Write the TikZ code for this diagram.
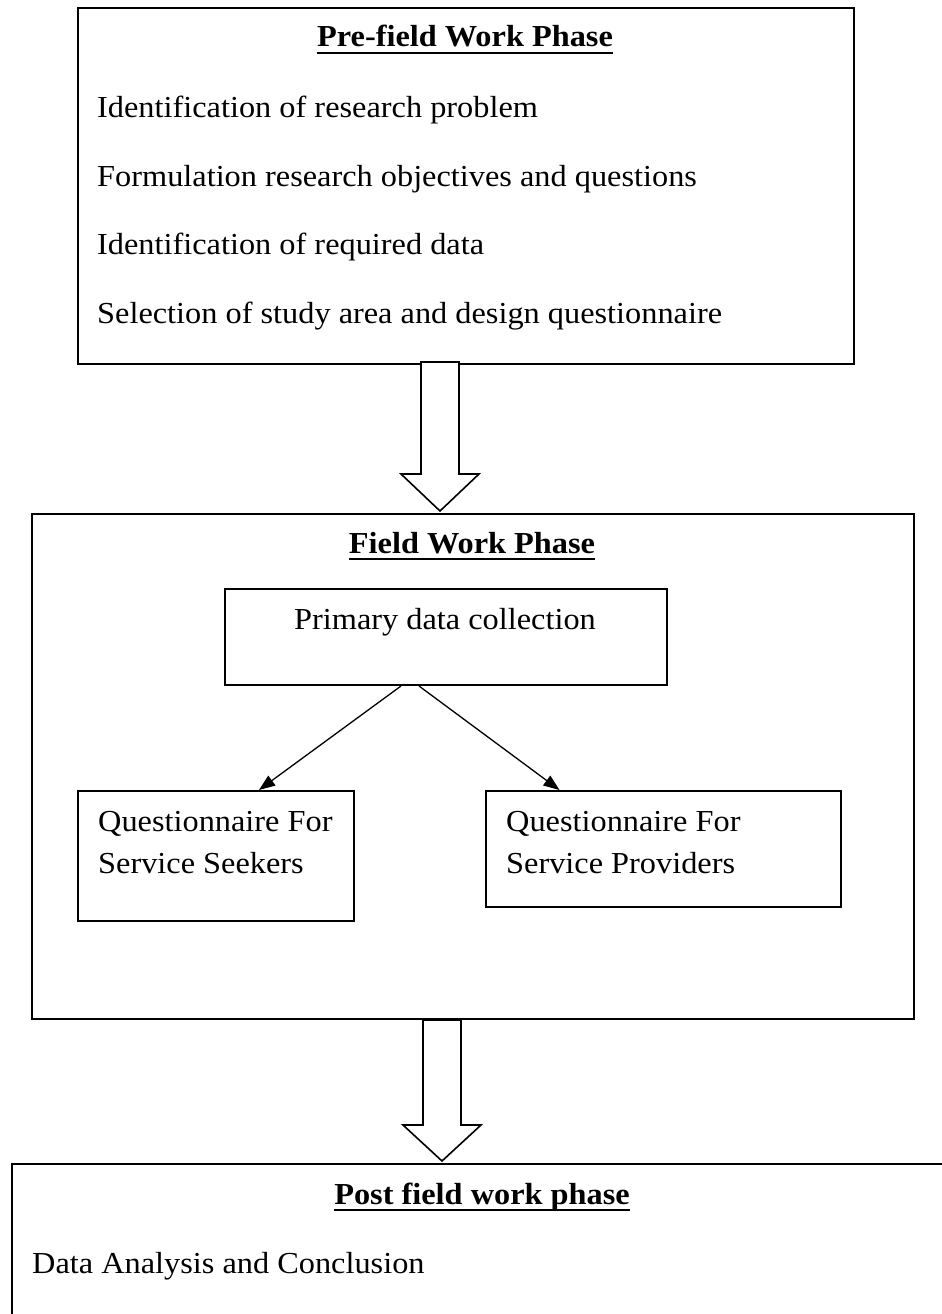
\documentclass[tikz,border=0pt]{standalone}
\usepackage{fontspec}
\setmainfont{Liberation Serif}[FakeStretch=1.06]
\usetikzlibrary{calc,arrows.meta}
\begin{document}
\begin{tikzpicture}[x=1pt,y=-1pt,
  box/.style={draw, line width=2pt, inner sep=0pt, anchor=north west},
  txt/.style={anchor=base west, inner sep=0pt, font=\fontsize{30.5}{36}\selectfont},
  ctxt/.style={anchor=base, inner sep=0pt, font=\fontsize{30.5}{36}\selectfont},
  ttl/.style={anchor=base, inner sep=0pt, font=\fontsize{30.5}{36}\selectfont\bfseries},
  blk/.style={draw, line width=1.6pt, fill=white, line join=miter},
  conn/.style={line width=1.3pt, -{Triangle[length=16pt,width=12pt]}},
  ul/.style={line width=2.8pt}]
\useasboundingbox (0,0) rectangle (942,1314);
\clip (0,0) rectangle (942,1314);

% Pre-field box
\node[box, minimum width=776pt, minimum height=356pt] (pre) at (77,7) {};
\node[ttl] (t1) at (465,47) {Pre-field Work Phase};
\draw[ul] ($(t1.base west)+(0,6)$) -- ($(t1.base east)+(0,6)$);
\node[txt] (p1) at (97,117) {Identification of research problem};
\node[txt] (p2) at (97,186) {Formulation research objectives and questions};
\node[txt] (p3) at (97,254) {Identification of required data};
\node[txt] (p4) at (97,323) {Selection of study area and design questionnaire};

% Field box
\node[box, minimum width=882pt, minimum height=505pt] (field) at (31,513) {};
\node[ttl] (t2) at (472,553) {Field Work Phase};
\draw[ul] ($(t2.base west)+(0,6)$) -- ($(t2.base east)+(0,6)$);

\node[box, minimum width=442pt, minimum height=96pt] (prim) at (224,588) {};
\node[ctxt] (primt) at (445,629) {Primary data collection};

\node[box, minimum width=276pt, minimum height=130pt] (qs) at (77,790) {};
\node[txt] (qs1) at (98,831) {Questionnaire For};
\node[txt] (qs2) at (98,873) {Service Seekers};

\node[box, minimum width=355pt, minimum height=116pt] (qp) at (485,790) {};
\node[txt] (qp1) at (506,831) {Questionnaire For};
\node[txt] (qp2) at (506,873) {Service Providers};

\draw[conn] ($(prim.south)+(-45,0)$) -- ($(qs.north)+(43,0)$);
\draw[conn] ($(prim.south)+(-27,0)$) -- ($(qp.north)+(-104,0)$);

% Post box
\node[box, minimum width=1000pt, minimum height=300pt] (post) at (11,1163) {};
\node[ttl] (t3) at (482,1204) {Post field work phase};
\draw[ul] ($(t3.base west)+(0,6)$) -- ($(t3.base east)+(0,6)$);
\node[txt] (d1) at (32,1273) {Data Analysis and Conclusion};

% Block arrows
\coordinate (a1) at (440,363);
\draw[blk] ($(a1)+(-19,-1)$) -- ($(a1)+(-19,111)$) -- ($(a1)+(-39,111)$) -- (440,511)
  -- ($(a1)+(39,111)$) -- ($(a1)+(19,111)$) -- ($(a1)+(19,-1)$) -- cycle;
\coordinate (a2) at (442,1020);
\draw[blk] ($(a2)+(-19,0)$) -- ($(a2)+(-19,105)$) -- ($(a2)+(-39,105)$) -- (442,1161)
  -- ($(a2)+(39,105)$) -- ($(a2)+(19,105)$) -- ($(a2)+(19,0)$) -- cycle;
\end{tikzpicture}
\end{document}
